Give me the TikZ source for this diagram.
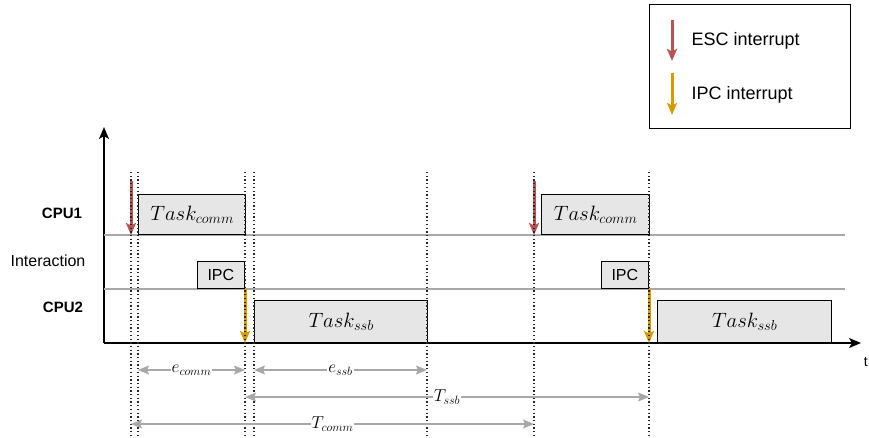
\documentclass[tikz,border=0pt]{standalone}
\usepackage{fontspec}
\setsansfont{Liberation Sans}
\usetikzlibrary{positioning,arrows.meta}

\definecolor{escred}{HTML}{B85450}
\definecolor{ipcyellow}{HTML}{D79B00}
\definecolor{taskgray}{HTML}{E6E6E6}
\definecolor{dimgray}{HTML}{A8A8A8}

\begin{document}
\begin{tikzpicture}[
  x=1pt, y=-1pt,
  font=\sffamily,
  task/.style={draw, line width=1.3pt, fill=taskgray, inner sep=0pt,
               anchor=south west, font=\fontsize{19.5}{22}\selectfont},
  ipc/.style={draw, line width=1.3pt, fill=taskgray, inner sep=0pt,
              anchor=south east, minimum width=47pt, minimum height=27pt,
              font=\sffamily\fontsize{16}{18}\selectfont},
  lane/.style={font=\sffamily\fontsize{16}{18}\selectfont},
  sep/.style={dimgray, line width=1.2pt},
  axis/.style={-{Stealth[length=12pt, width=10pt, inset=3pt]}, line width=1.3pt},
  timemark/.style={line width=1.3pt, dash pattern=on 1.3pt off 2.4pt, black!85},
  esc/.style={-{Stealth[length=12pt, width=10pt, inset=2.5pt]}, line width=3pt, escred},
  irq/.style={-{Stealth[length=12pt, width=10pt, inset=2.5pt]}, line width=3pt, ipcyellow},
  dim/.style={{Stealth[length=11pt, width=9pt, inset=2pt]}-{Stealth[length=11pt, width=9pt, inset=2pt]},
              line width=1.4pt, dimgray},
  dimlbl/.style={fill=white, text=black, inner sep=1pt, font=\fontsize{18}{20}\selectfont},
]
  \useasboundingbox (0,0) rectangle (869,437);

  % legend
  \node[draw, line width=1.2pt, minimum width=201pt, minimum height=124pt,
        anchor=north west] (legend) at (649,4) {};
  \coordinate (escA) at (672,20);
  \coordinate (escB) at (672,61);
  \coordinate (ipcA) at (672,73);
  \coordinate (ipcB) at (672,115);
  \draw[esc] (escA) -- (escB);
  \draw[irq] (ipcA) -- (ipcB);
  \node[anchor=west, font=\sffamily\fontsize{18}{20}\selectfont] (escl) at (688,41) {ESC interrupt};
  \node[anchor=west, font=\sffamily\fontsize{18}{20}\selectfont] (ipcl) at (688,95) {IPC interrupt};

  % axes
  \coordinate (origin) at (104,343);
  \coordinate (ytop) at (104,127);
  \coordinate (xend) at (861,343);
  \draw[axis] (origin) -- (ytop);
  \draw[axis] (origin) -- (xend);
  \node[anchor=east, inner sep=1pt, font=\sffamily\fontsize{14}{16}\selectfont] (tlbl) at (869,362) {t};

  % lanes
  \coordinate (sepA) at (104,235);
  \coordinate (sepAe) at (845,235);
  \coordinate (sepB) at (104,289);
  \coordinate (sepBe) at (845,289);
  \draw[sep] (sepA) -- (sepAe);
  \draw[sep] (sepB) -- (sepBe);
  \node[lane, font=\sffamily\bfseries\fontsize{15}{17}\selectfont] (cpu1) at (62,213) {CPU1};
  \node[lane] (inter) at (48,261) {Interaction};
  \node[lane, font=\sffamily\bfseries\fontsize{15}{17}\selectfont] (cpu2) at (63,307) {CPU2};

  % tasks
  \node[task, minimum width=107pt, minimum height=40pt] (comm1) at (138,235) {$Task_{comm}$};
  \node[task, minimum width=108pt, minimum height=40pt] (comm2) at (541,235) {$Task_{comm}$};
  \node[ipc] (ipc1) at (245,289) {IPC};
  \node[ipc] (ipc2) at (649,289) {IPC};
  \node[task, minimum width=173pt, minimum height=42pt] (ssb1) at (254,343) {$Task_{ssb}$};
  \node[task, minimum width=174pt, minimum height=42pt] (ssb2) at (657,343) {$Task_{ssb}$};

  % interrupts
  \coordinate (esc1) at (131,181);
  \coordinate (esc2) at (534,181);
  \draw[esc] (esc1) -- (esc1 |- sepA);
  \draw[esc] (esc2) -- (esc2 |- sepA);
  \draw[irq] (ipc1.south east) -- (ipc1.south east |- origin);
  \draw[irq] (ipc2.south east) -- (ipc2.south east |- origin);

  % time marks
  \foreach \name/\xx in {m1/131, m2/138, m3/245, m4/254, m5/427, m6/534, m7/649} {
    \coordinate (\name) at (\xx,172);
    \draw[timemark] (\name) -- ++(0,265);
  }

  % durations
  \coordinate (rowA) at (0,370);
  \coordinate (rowB) at (0,397);
  \coordinate (rowC) at (0,424);
  \draw[dim] (m2 |- rowA) -- node[dimlbl] {$e_{comm}$} (m3 |- rowA);
  \draw[dim] (m4 |- rowA) -- node[dimlbl] {$e_{ssb}$} (m5 |- rowA);
  \draw[dim] (m3 |- rowB) -- node[dimlbl] {$T_{ssb}$} (m7 |- rowB);
  \draw[dim] (m1 |- rowC) -- node[dimlbl] {$T_{comm}$} (m6 |- rowC);
\end{tikzpicture}
\end{document}
